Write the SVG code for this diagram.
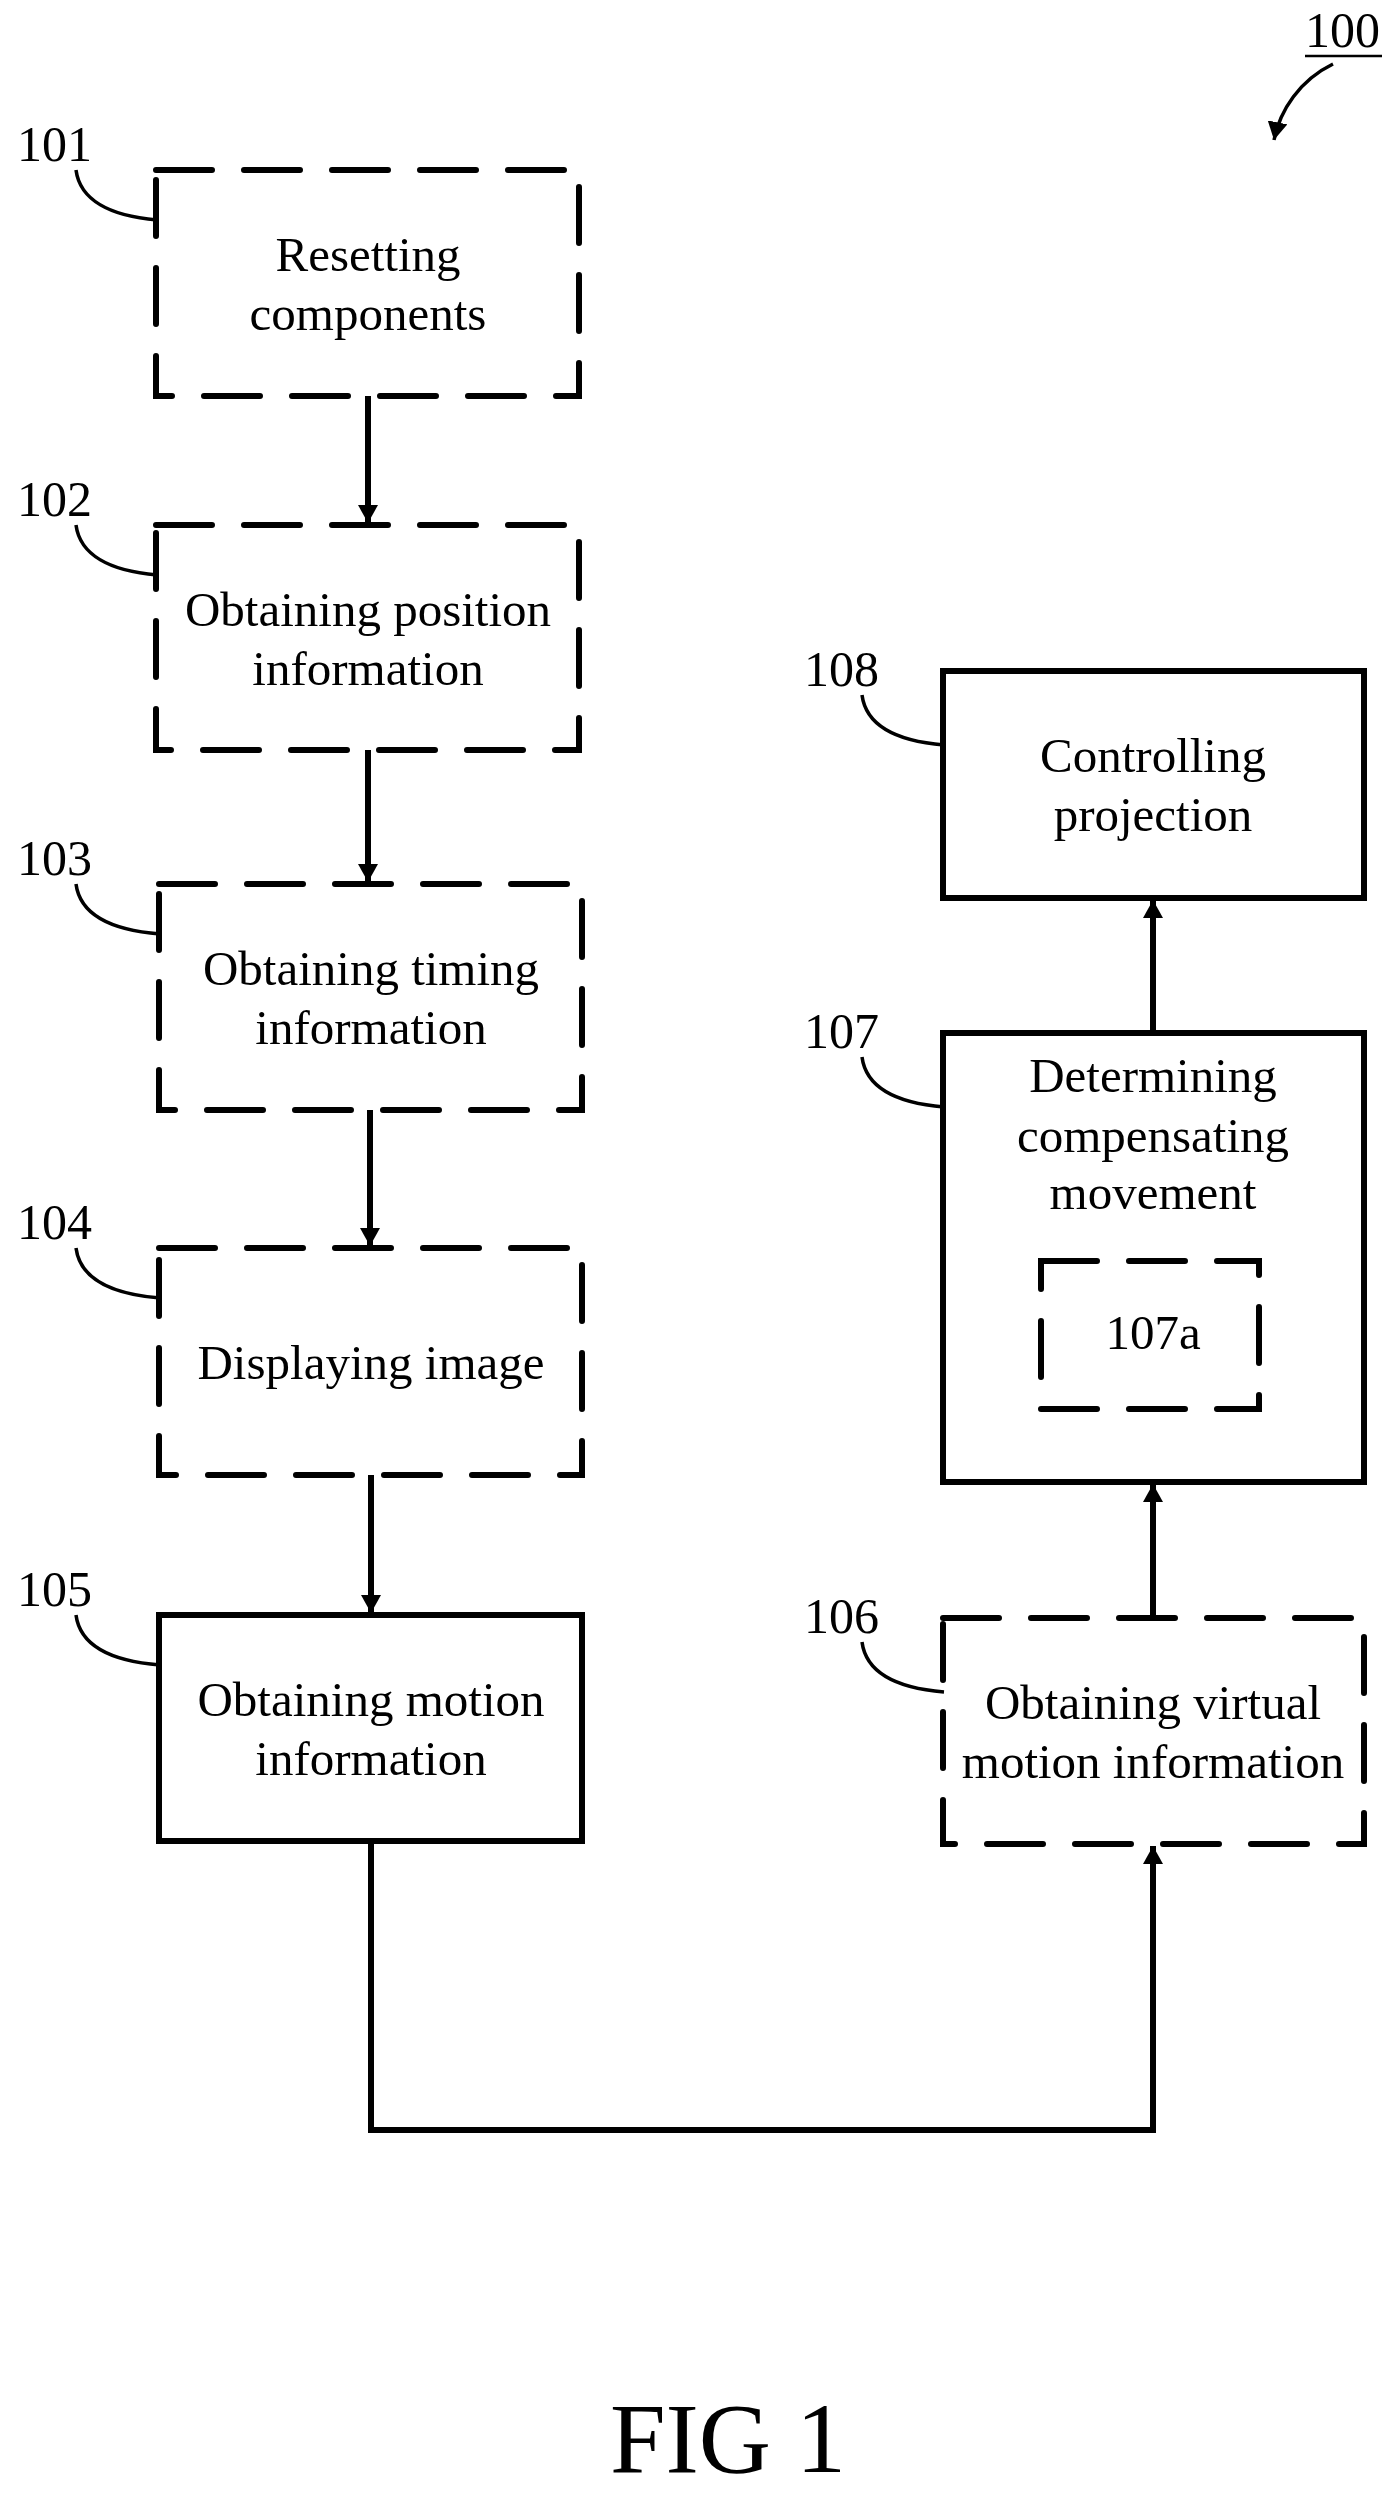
<svg xmlns="http://www.w3.org/2000/svg" width="1399" height="2493" viewBox="0 0 1399 2493">
<style>
.b{fill:none;stroke:#000;stroke-width:6}
.d{stroke-dasharray:56 32;stroke-linecap:round}
.c{fill:none;stroke:#000;stroke-width:6}
.l{fill:none;stroke:#000;stroke-width:3.5}
text{font-family:"Liberation Serif",serif;font-size:49px;fill:#000;text-anchor:middle}
.n{text-anchor:start;font-size:50px}
</style>
<defs>
<marker id="a" markerWidth="24" markerHeight="20" refX="18" refY="10" orient="auto" markerUnits="userSpaceOnUse">
<path d="M0 0 L18 10 L0 20 Z" fill="#000"/>
</marker>
</defs>
<rect width="1399" height="2493" fill="#fff"/>
<g id="n100">
<text class="n" x="1305" y="47">100</text>
<line x1="1305" y1="56" x2="1382" y2="56" stroke="#000" stroke-width="2.5"/>
<path class="l" d="M1333 64 C1300 80 1280 110 1274 140" marker-end="url(#a)"/>
</g>
<g id="n101">
<rect class="b d" x="156" y="170" width="423" height="226"/>
<text x="368" y="271">Resetting</text><text x="368" y="330">components</text>
<text class="n" x="17" y="161">101</text>
<path class="l" d="M76 170 C80 200 110 216 157 220"/>
</g>
<g id="n102">
<rect class="b d" x="156" y="525" width="423" height="225"/>
<text x="368" y="626">Obtaining position</text><text x="368" y="685">information</text>
<text class="n" x="17" y="516">102</text>
<path class="l" d="M76 525 C80 555 110 571 157 575"/>
</g>
<g id="n103">
<rect class="b d" x="159" y="884" width="423" height="226"/>
<text x="371" y="985">Obtaining timing</text><text x="371" y="1044">information</text>
<text class="n" x="17" y="875">103</text>
<path class="l" d="M76 884 C80 914 110 930 160 934"/>
</g>
<g id="n104">
<rect class="b d" x="159" y="1248" width="423" height="227"/>
<text x="371" y="1379">Displaying image</text>
<text class="n" x="17" y="1239">104</text>
<path class="l" d="M76 1248 C80 1278 110 1294 160 1298"/>
</g>
<g id="n105">
<rect class="b" x="159" y="1615" width="423" height="226"/>
<text x="371" y="1716">Obtaining motion</text><text x="371" y="1775">information</text>
<text class="n" x="17" y="1606">105</text>
<path class="l" d="M76 1615 C80 1645 110 1661 160 1665"/>
</g>
<g id="n106">
<rect class="b d" x="943" y="1618" width="421" height="226"/>
<text x="1153" y="1719">Obtaining virtual</text><text x="1153" y="1778">motion information</text>
<text class="n" x="804" y="1633">106</text>
<path class="l" d="M862 1642 C866 1672 896 1688 944 1692"/>
</g>
<g id="n107">
<rect class="b" x="943" y="1033" width="421" height="449"/>
<text x="1153" y="1092">Determining</text><text x="1153" y="1152">compensating</text><text x="1153" y="1209">movement</text>
<text class="n" x="804" y="1048">107</text>
<path class="l" d="M862 1057 C866 1087 896 1103 944 1107"/>
</g>
<g id="n107a">
<rect class="b d" x="1041" y="1261" width="218" height="148"/>
<text x="1153" y="1349">107a</text>
</g>
<g id="n108">
<rect class="b" x="943" y="671" width="421" height="227"/>
<text x="1153" y="772">Controlling</text><text x="1153" y="831">projection</text>
<text class="n" x="804" y="686">108</text>
<path class="l" d="M862 695 C866 725 896 741 944 745"/>
</g>
<g id="connectors">
<line class="c" x1="368" y1="396" x2="368" y2="523" marker-end="url(#a)"/>
<line class="c" x1="368" y1="750" x2="368" y2="882" marker-end="url(#a)"/>
<line class="c" x1="370" y1="1110" x2="370" y2="1246" marker-end="url(#a)"/>
<line class="c" x1="371" y1="1475" x2="371" y2="1613" marker-end="url(#a)"/>
<path class="c" d="M371 1841 V2130 H1153 V1846" marker-end="url(#a)"/>
<line class="c" x1="1153" y1="1618" x2="1153" y2="1484" marker-end="url(#a)"/>
<line class="c" x1="1153" y1="1033" x2="1153" y2="900" marker-end="url(#a)"/>
</g>
<text x="728" y="2472" style="font-size:100px">FIG 1</text>
</svg>
